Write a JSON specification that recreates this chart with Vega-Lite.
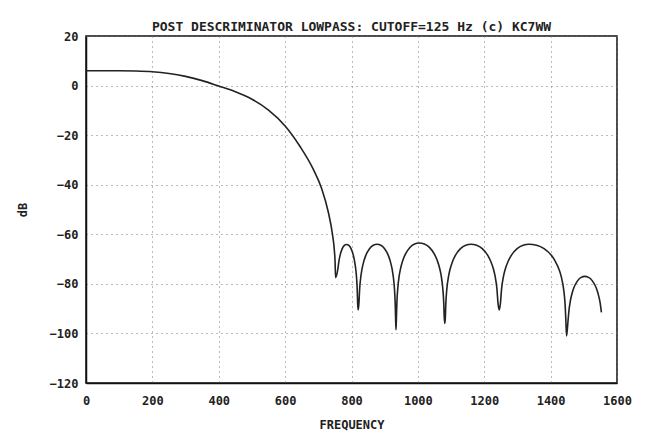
{
  "$schema": "https://vega.github.io/schema/vega-lite/v6.json",
  "autosize": "none",
  "width": 531,
  "height": 347,
  "padding": {"left": 86, "top": 36, "right": 37, "bottom": 52},
  "background": "white",
  "title": {
    "text": "POST DESCRIMINATOR LOWPASS: CUTOFF=125 Hz (c) KC7WW",
    "font": "DejaVu Sans Mono",
    "fontSize": 13,
    "fontWeight": "bold",
    "color": "#222",
    "anchor": "middle",
    "offset": 3,
    "dy": 7
  },
  "data": {
    "values": [
      {"f": 0, "db": 6.0}, {"f": 100, "db": 6.0}, {"f": 150, "db": 5.9}, {"f": 200, "db": 5.6},
      {"f": 250, "db": 4.9}, {"f": 300, "db": 3.7}, {"f": 350, "db": 2.0}, {"f": 400, "db": -0.2},
      {"f": 450, "db": -2.5}, {"f": 500, "db": -5.5}, {"f": 550, "db": -9.9}, {"f": 600, "db": -16.3},
      {"f": 645, "db": -24.6}, {"f": 685, "db": -33.8}, {"f": 710, "db": -41.5}, {"f": 730, "db": -51.0},
      {"f": 742, "db": -59.4}, {"f": 748, "db": -66.0}, {"f": 750.5, "db": -71.0}, {"f": 752, "db": -77.5},
      {"f": 758.6, "db": -74.3}, {"f": 761.9, "db": -71.0}, {"f": 765.2, "db": -68.7}, {"f": 771.8, "db": -65.9},
      {"f": 778.4, "db": -64.5}, {"f": 785, "db": -64.1}, {"f": 792, "db": -64.5}, {"f": 799, "db": -65.9},
      {"f": 806, "db": -68.7}, {"f": 809.5, "db": -71.0}, {"f": 813, "db": -74.3}, {"f": 815.1, "db": -77.3},
      {"f": 817.2, "db": -82.1}, {"f": 818.6, "db": -88.1}, {"f": 820, "db": -90.5},
      {"f": 822.3, "db": -88.0}, {"f": 824.6, "db": -82.0}, {"f": 828.0, "db": -77.2}, {"f": 831.4, "db": -74.2},
      {"f": 837.1, "db": -70.9}, {"f": 842.8, "db": -68.6}, {"f": 854.2, "db": -65.8}, {"f": 865.6, "db": -64.4},
      {"f": 877, "db": -64.0}, {"f": 888.4, "db": -64.4}, {"f": 899.8, "db": -65.8}, {"f": 911.2, "db": -68.6},
      {"f": 916.9, "db": -70.9}, {"f": 922.6, "db": -74.2}, {"f": 926.0, "db": -77.2}, {"f": 929.4, "db": -82.0},
      {"f": 931.7, "db": -88.0}, {"f": 932.9, "db": -94.1}, {"f": 934, "db": -98.5},
      {"f": 935.4, "db": -93.6}, {"f": 936.8, "db": -87.5}, {"f": 939.6, "db": -81.5}, {"f": 943.8, "db": -76.7},
      {"f": 948, "db": -73.7}, {"f": 955, "db": -70.4}, {"f": 962, "db": -68.1}, {"f": 976, "db": -65.3},
      {"f": 990, "db": -63.9}, {"f": 1004, "db": -63.5}, {"f": 1019.4, "db": -63.9}, {"f": 1034.8, "db": -65.3},
      {"f": 1050.2, "db": -68.1}, {"f": 1057.9, "db": -70.4}, {"f": 1065.6, "db": -73.7}, {"f": 1070.2, "db": -76.7},
      {"f": 1074.8, "db": -81.5}, {"f": 1077.9, "db": -87.5}, {"f": 1079.5, "db": -93.6}, {"f": 1081, "db": -96.0},
      {"f": 1082.6, "db": -94.1}, {"f": 1084.2, "db": -88.0}, {"f": 1087.3, "db": -82.0}, {"f": 1092.1, "db": -77.2},
      {"f": 1096.8, "db": -74.2}, {"f": 1104.7, "db": -70.9}, {"f": 1112.6, "db": -68.6}, {"f": 1128.4, "db": -65.8},
      {"f": 1144.2, "db": -64.4}, {"f": 1160, "db": -64.0}, {"f": 1177, "db": -64.4}, {"f": 1194, "db": -65.8},
      {"f": 1211, "db": -68.6}, {"f": 1219.5, "db": -70.9}, {"f": 1228, "db": -74.2}, {"f": 1233.1, "db": -77.2},
      {"f": 1238.2, "db": -82.0}, {"f": 1241.6, "db": -88.0}, {"f": 1245, "db": -90.5},
      {"f": 1248.6, "db": -88.0}, {"f": 1252.2, "db": -82.0}, {"f": 1257.6, "db": -77.2}, {"f": 1263, "db": -74.2},
      {"f": 1272, "db": -70.9}, {"f": 1281, "db": -68.6}, {"f": 1299, "db": -65.8}, {"f": 1317, "db": -64.4},
      {"f": 1335, "db": -64.0}, {"f": 1357.6, "db": -64.4}, {"f": 1380.2, "db": -65.8}, {"f": 1402.8, "db": -68.6},
      {"f": 1414.1, "db": -70.9}, {"f": 1425.4, "db": -74.2}, {"f": 1432.2, "db": -77.2}, {"f": 1439, "db": -82.0},
      {"f": 1443.5, "db": -88.0}, {"f": 1445.7, "db": -94.1}, {"f": 1448, "db": -101.0},
      {"f": 1452.4, "db": -95.0}, {"f": 1455.7, "db": -90.2}, {"f": 1459, "db": -87.2}, {"f": 1464.5, "db": -83.9},
      {"f": 1470, "db": -81.6}, {"f": 1481, "db": -78.8}, {"f": 1492, "db": -77.4}, {"f": 1503, "db": -77.0},
      {"f": 1514.4, "db": -77.4}, {"f": 1525.8, "db": -78.8}, {"f": 1537.2, "db": -81.6}, {"f": 1542.9, "db": -83.9},
      {"f": 1548.6, "db": -87.2}, {"f": 1553, "db": -91.5}
    ]
  },
  "mark": {"type": "line", "color": "#222", "strokeWidth": 1.6, "interpolate": "monotone"},
  "encoding": {
    "x": {
      "field": "f", "type": "quantitative",
      "scale": {"domain": [0, 1600], "nice": false, "zero": false},
      "axis": {"title": "FREQUENCY", "format": "d", "values": [0, 200, 400, 600, 800, 1000, 1200, 1400, 1600]}
    },
    "y": {
      "field": "db", "type": "quantitative",
      "scale": {"domain": [-120, 20], "nice": false, "zero": false},
      "axis": {"title": "dB", "format": "d", "values": [20, 0, -20, -40, -60, -80, -100, -120], "titlePadding": 20}
    }
  },
  "config": {
    "view": {"stroke": "#111", "strokeWidth": 1.5},
    "axis": {
      "labelFont": "DejaVu Sans Mono",
      "labelFontSize": 12,
      "labelFontWeight": "bold",
      "labelColor": "#222",
      "titleFont": "DejaVu Sans Mono",
      "titleFontSize": 12,
      "titleFontWeight": "bold",
      "titleColor": "#222",
      "domainColor": "#111",
      "domainWidth": 1.5,
      "ticks": false,
      "labelPadding": 8,
      "grid": true,
      "gridColor": "#777",
      "gridDash": [1, 4],
      "gridWidth": 1,
      "labelFlush": false,
      "labelOverlap": false
    },
    "axisX": {"titlePadding": 13, "labelPadding": 12}
  }
}
